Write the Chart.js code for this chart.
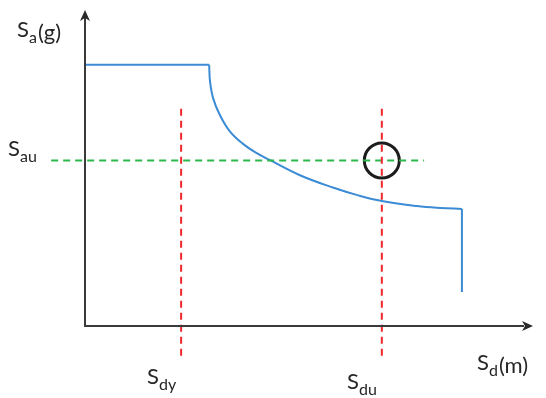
<!DOCTYPE html>
<html>
<head>
<meta charset="utf-8">
<script src="https://cdn.jsdelivr.net/npm/chart.js@4/dist/chart.umd.min.js"></script>
<style>
  html, body { margin: 0; padding: 0; background: #ffffff; }
  #wrap { width: 546px; height: 398px; }
</style>
</head>
<body>
<div id="wrap"><canvas id="c" width="546" height="398"></canvas></div>
<script>
// Capacity spectrum: plateau, descending branch, final drop (Sd, Sa)
const plateauSd = [0, 27.9];
const plateauSa = [83.2, 83.2];
const curveSd = [27.9, 28.1, 28.8, 30.3, 32.6, 35.5, 38.4, 41.6, 48.3, 55.7, 61.4, 66.7, 74.6, 79.8, 84.7];
const curveSa = [83.2, 77.8, 72.5, 67.2, 61.9, 58.0, 55.2, 52.8, 48.0, 44.1, 41.6, 39.8, 38.2, 37.6, 37.3];
const dropSd = [84.7, 84.7];
const dropSa = [37.3, 10.8];

// Reference levels
const Sdy = 21.6;
const Sdu = 66.7;
const Sau = 52.7;
const markerExtent = { top: 69.2, bottom: -9.9, left: -7.6, right: 76.2 };

// Axis and marker labels
const labels = [
  { main: 'S', sub: 'a', tail: '(g)', x: 17, y: 37 },
  { main: 'S', sub: 'au', tail: '', x: 8, y: 156 },
  { main: 'S', sub: 'dy', tail: '', x: 147, y: 384 },
  { main: 'S', sub: 'du', tail: '', x: 347, y: 389 },
  { main: 'S', sub: 'd', tail: '(m)', x: 477, y: 370 }
];

const pts = (xs, ys) => xs.map((x, i) => ({ x, y: ys[i] }));

const BLUE = '#3b8bd5';
const RED = '#f0282d';
const GREEN = '#2db84e';

const axesPlugin = {
  id: 'axesArrows',
  afterDraw(chart) {
    const ctx = chart.ctx;
    const xs = chart.scales.x, ys = chart.scales.y;
    const x0 = xs.getPixelForValue(0), y0 = ys.getPixelForValue(0);
    const xEnd = xs.getPixelForValue(xs.max), yTop = ys.getPixelForValue(ys.max);
    ctx.save();
    ctx.strokeStyle = '#3a3a3a';
    ctx.fillStyle = '#2a2a2a';
    ctx.lineWidth = 2;
    ctx.beginPath();
    ctx.moveTo(x0, y0 + 1);
    ctx.lineTo(x0, yTop + 6);
    ctx.moveTo(x0 - 1, y0);
    ctx.lineTo(xEnd - 6, y0);
    ctx.stroke();
    // arrow heads
    ctx.beginPath();
    ctx.moveTo(x0, yTop - 2);
    ctx.lineTo(x0 - 5, yTop + 9);
    ctx.lineTo(x0, yTop + 6);
    ctx.lineTo(x0 + 5, yTop + 9);
    ctx.closePath();
    ctx.fill();
    ctx.beginPath();
    ctx.moveTo(xEnd + 3, y0);
    ctx.lineTo(xEnd - 8, y0 - 5);
    ctx.lineTo(xEnd - 5, y0);
    ctx.lineTo(xEnd - 8, y0 + 5);
    ctx.closePath();
    ctx.fill();

    // labels with subscripts
    ctx.fillStyle = '#262626';
    ctx.textBaseline = 'alphabetic';
    ctx.textAlign = 'left';
    labels.forEach(l => {
      let x = l.x;
      ctx.font = '22px Lato, "Open Sans", sans-serif';
      ctx.fillText(l.main, x, l.y);
      x += ctx.measureText(l.main).width;
      ctx.font = '16px Lato, "Open Sans", sans-serif';
      ctx.fillText(l.sub, x, l.y + 6);
      x += ctx.measureText(l.sub).width + 1;
      if (l.tail) {
        ctx.font = '22px Lato, "Open Sans", sans-serif';
        ctx.fillText(l.tail, x, l.y + 3);
      }
    });
    ctx.restore();
  }
};

new Chart(document.getElementById('c'), {
  type: 'scatter',
  data: {
    datasets: [
      { data: pts([Sdy, Sdy], [markerExtent.top, markerExtent.bottom]), showLine: true, borderColor: RED, borderWidth: 2, borderDash: [7, 5], pointRadius: 0, clip: false },
      { data: pts([Sdu, Sdu], [markerExtent.top, markerExtent.bottom]), showLine: true, borderColor: RED, borderWidth: 2, borderDash: [7, 5], pointRadius: 0, clip: false },
      { data: pts([markerExtent.left, markerExtent.right], [Sau, Sau]), showLine: true, borderColor: GREEN, borderWidth: 2, borderDash: [7, 5], pointRadius: 0, clip: false },
      { data: pts(plateauSd, plateauSa), showLine: true, borderColor: BLUE, borderWidth: 2, pointRadius: 0, tension: 0 },
      { data: pts(curveSd, curveSa), showLine: true, borderColor: BLUE, borderWidth: 2, pointRadius: 0, tension: 0.4 },
      { data: pts(dropSd, dropSa), showLine: true, borderColor: BLUE, borderWidth: 2, pointRadius: 0, tension: 0 },
      { data: [{ x: Sdu, y: Sau }], showLine: false, pointRadius: 17.5, pointHoverRadius: 17.5, borderWidth: 3, borderColor: '#1c1c1c', backgroundColor: 'rgba(0,0,0,0)', clip: false }
    ]
  },
  options: {
    responsive: false,
    animation: false,
    events: [],
    layout: { autoPadding: false, padding: { left: 85, right: 16, top: 12, bottom: 72 } },
    scales: {
      x: { type: 'linear', min: 0, max: 100, display: false },
      y: { type: 'linear', min: 0, max: 100, display: false }
    },
    plugins: { legend: { display: false }, tooltip: { enabled: false } }
  },
  plugins: [axesPlugin]
});
</script>
</body>
</html>
